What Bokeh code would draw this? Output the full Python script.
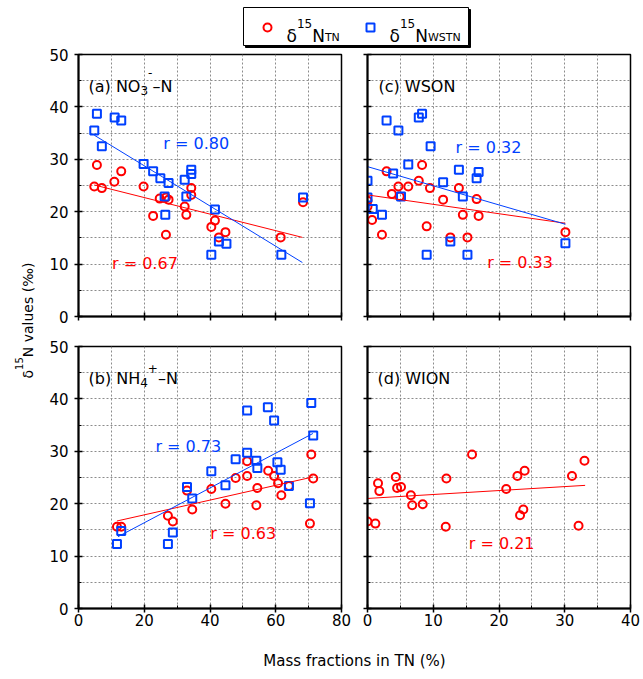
import math
from bokeh.plotting import figure
from bokeh.models import Range1d, FixedTicker, Label, CustomJSTickFormatter
from bokeh.layouts import column, row
from bokeh.embed import file_html
from bokeh.resources import INLINE

RED = "#ff0000"
BLUE = "#0040ff"
FONT = "DejaVu Sans"

# ---------------- data ----------------
# (a) NO3- -N  (x: mass fraction in TN, %)
a_tn_x = [5.6, 4.8, 7.1, 10.9, 13.0, 19.8, 22.7, 24.7, 26.6, 27.4, 26.6, 32.3, 32.8, 34.3, 34.3, 40.4, 41.5, 42.7, 44.7, 61.5, 68.3]
a_tn_y = [28.9, 24.8, 24.5, 25.7, 27.7, 24.8, 19.2, 22.5, 22.7, 22.3, 15.6, 21.0, 19.4, 24.5, 23.2, 17.1, 18.3, 15.1, 16.1, 15.1, 21.8]
a_ws_x = [5.6, 11.0, 13.0, 4.8, 7.1, 19.8, 22.7, 24.9, 27.4, 34.3, 34.3, 32.3, 26.2, 32.8, 26.4, 41.5, 40.4, 42.7, 45.0, 61.7, 68.3]
a_ws_y = [38.7, 38.0, 37.4, 35.5, 32.5, 29.1, 27.7, 26.4, 25.5, 28.0, 27.2, 26.1, 22.9, 22.9, 19.4, 20.4, 11.8, 14.3, 13.9, 11.8, 22.7]
a_fit_x = [4.8, 68.1]
a_fit_tn_y = [25.1, 15.1]
a_fit_ws_y = [34.6, 10.3]
a_r_tn, a_r_ws = "r = 0.67", "r = 0.80"

# (b) NH4+ -N
b_tn_x = [11.7, 13.0, 27.2, 28.7, 33.0, 34.6, 40.4, 44.7, 47.8, 51.3, 51.3, 54.4, 54.1, 57.7, 59.5, 60.7, 61.7, 64.0, 70.8, 71.4, 70.4]
b_tn_y = [15.6, 15.6, 17.7, 16.6, 22.5, 18.9, 22.8, 20.0, 24.9, 25.3, 28.1, 23.0, 19.7, 26.3, 25.3, 23.9, 21.6, 23.4, 29.4, 24.8, 16.2]
b_ws_x = [11.7, 13.0, 27.2, 28.7, 33.0, 34.6, 40.4, 44.7, 47.8, 51.3, 51.3, 54.1, 54.4, 57.6, 59.5, 60.5, 61.5, 64.0, 70.8, 71.4, 70.4]
b_ws_y = [12.3, 14.8, 12.3, 14.5, 23.2, 21.0, 26.2, 23.5, 28.5, 29.7, 37.8, 28.2, 26.8, 38.4, 35.9, 27.9, 26.5, 23.4, 39.2, 33.0, 20.1]
b_fit_tn_x = [11.7, 71.3]
b_fit_tn_y = [16.7, 25.1]
b_fit_ws_x = [12.0, 71.3]
b_fit_ws_y = [13.7, 33.4]
b_r_tn, b_r_ws = "r = 0.63", "r = 0.73"

# (c) WSON
c_tn_x = [2.9, 8.3, 7.8, 4.7, 6.2, 3.7, 4.9, 9.5, 0.0, 0.0, 0.7, 2.2, 11.5, 13.9, 16.6, 14.5, 16.9, 9.0, 12.6, 15.2, 30.1]
c_tn_y = [27.7, 28.9, 25.9, 24.8, 24.8, 23.4, 22.9, 24.5, 22.1, 21.0, 18.4, 15.6, 22.3, 24.5, 22.4, 19.4, 19.2, 17.2, 15.1, 15.1, 16.1]
c_ws_x = [2.9, 4.7, 7.8, 8.3, 9.6, 6.2, 3.9, 0.0, 0.0, 0.8, 2.2, 5.1, 11.5, 13.9, 14.5, 16.9, 16.6, 12.6, 9.0, 15.2, 30.1]
c_ws_y = [37.4, 35.5, 38.0, 38.7, 32.5, 29.0, 27.3, 25.9, 22.7, 20.5, 19.4, 22.9, 25.6, 28.0, 22.9, 27.6, 26.4, 14.3, 11.8, 11.8, 14.0]
c_fit_x = [0.0, 30.1]
c_fit_tn_y = [23.2, 17.8]
c_fit_ws_y = [28.6, 17.6]
c_r_tn, c_r_ws = "r = 0.33", "r = 0.32"

# (d) WION
d_tn_x = [0.0, 1.2, 1.6, 1.8, 4.3, 4.5, 5.1, 6.6, 6.8, 8.4, 12.0, 11.9, 15.9, 21.1, 22.8, 23.9, 23.2, 23.7, 31.1, 32.1, 33.0]
d_tn_y = [16.6, 16.2, 23.9, 22.4, 25.1, 23.0, 23.2, 21.6, 19.7, 19.9, 24.8, 15.6, 29.4, 22.8, 25.3, 26.3, 17.8, 18.9, 25.3, 15.8, 28.2]
d_fit_x = [0.0, 33.1]
d_fit_tn_y = [21.0, 23.5]
d_r_tn = "r = 0.21"

left_xticks = [0, 20, 40, 60, 80]
left_xminor = [10, 30, 50, 70]
right_xticks = [0, 10, 20, 30, 40]
right_xminor = [5, 15, 25, 35]
yticks = [0, 10, 20, 30, 40, 50]
yminor = [5, 15, 25, 35, 45]

# ---------------- helpers ----------------
WID = {' ': .318, '(': .390, ')': .390, 'a': .613, 'b': .635, 'c': .550, 'd': .635,
       'N': .748, 'O': .787, 'H': .752, 'W': .989, 'S': .635, 'I': .295, 'T': .611,
       '–': .5, '-': .361, '+': .838, '=': .838, '.': .318, 'r': .411, 'δ': .612,
       'v': .592, 'l': .278, 'u': .634, 'e': .615, 's': .521, '‰': 1.34, '%': .951,
       'M': .863, 'f': .352, 't': .392, 'i': .278, 'o': .612, 'n': .634}
for _d in "0123456789":
    WID[_d] = .636


def tw(s, size):
    return sum(WID.get(ch, .6) for ch in s) * size


def rich(p, x, y, pieces, dx=0.0, dy=0.0, color="black", angle=0.0):
    adv = 0.0
    for text, size, rise in pieces:
        if angle == 0.0:
            lab = Label(x=x, y=y, x_offset=dx + adv, y_offset=dy + rise, text=text,
                        text_baseline="alphabetic")
        else:
            # rotated text: anchor on the middle of the glyph box
            lab = Label(x=x - rise - 0.32 * size, y=y + adv, angle=angle, text=text,
                        text_baseline="middle")
        lab.text_font = FONT
        lab.text_font_size = f"{size}px"
        lab.text_color = color
        lab.text_align = "left"
        p.add_layout(lab)
        adv += tw(text, size)


def blank_fig(w, h):
    f = figure(width=w, height=h, x_range=Range1d(0, w), y_range=Range1d(0, h),
               output_backend="svg", toolbar_location=None,
               x_axis_location=None, y_axis_location=None,
               min_border=0, min_border_left=0, min_border_right=0,
               min_border_top=0, min_border_bottom=0)
    f.outline_line_color = None
    f.xgrid.visible = False
    f.ygrid.visible = False
    return f


def panel(xmax, xmaj, xmin, show_x, show_y, w, h, mbl, mbr, mbt, mbb):
    p = figure(width=w, height=h, x_range=Range1d(0, xmax), y_range=Range1d(0, 50),
               output_backend="svg", toolbar_location=None,
               min_border_left=mbl, min_border_right=mbr,
               min_border_top=mbt, min_border_bottom=mbb)
    p.outline_line_color = "black"
    p.outline_line_width = 1.5
    p.xaxis.ticker = FixedTicker(ticks=xmaj, minor_ticks=xmin)
    p.yaxis.ticker = FixedTicker(ticks=yticks, minor_ticks=yminor)
    for g in (p.xgrid, p.ygrid):
        g.grid_line_color = "#8c8c8c"
        g.grid_line_dash = "2 2"
        g.grid_line_width = 1
        g.minor_grid_line_color = "#8c8c8c"
        g.minor_grid_line_dash = "2 2"
        g.minor_grid_line_width = 1
    for ax in (p.xaxis, p.yaxis):
        ax.axis_line_width = 2
        ax.axis_line_color = "black"
        ax.major_tick_in = 4
        ax.major_tick_out = 4
        ax.minor_tick_in = 3
        ax.minor_tick_out = 0
        ax.major_tick_line_width = 1.5
        ax.minor_tick_line_width = 1
        ax.major_label_text_font = FONT
        ax.major_label_text_font_size = "15px"
        ax.major_label_text_color = "black"
    p.xaxis.major_label_standoff = 1
    p.yaxis.major_label_standoff = 6
    if not show_x:
        p.xaxis.formatter = CustomJSTickFormatter(code="return ''")
        p.xaxis.major_label_text_font_size = "0px"
        p.xaxis.major_label_standoff = 0
    if not show_y:
        p.yaxis.formatter = CustomJSTickFormatter(code="return ''")
        p.yaxis.major_label_text_font_size = "0px"
        p.yaxis.major_label_standoff = 0
    return p


def pts(p, x, y, marker, color):
    p.scatter(x, y, marker=marker, size=8, line_color=color, line_width=2, fill_color=None)


def fit(p, x, y, color):
    p.line(x, y, line_color=color, line_width=1)


def rlab(p, x, y, text, color):
    p.add_layout(Label(x=x, y=y, text=text, text_color=color, text_font=FONT,
                       text_font_size="16px", text_baseline="middle", text_align="left"))


# ---------------- panels ----------------
pa = panel(80, left_xticks, left_xminor, False, True, 316, 282, 40, 13, 6, 14)
pc = panel(40, right_xticks, right_xminor, False, False, 286, 282, 13, 10, 6, 14)
pb = panel(80, left_xticks, left_xminor, True, True, 316, 308, 40, 13, 16, 30)
pd = panel(40, right_xticks, right_xminor, True, False, 286, 308, 13, 10, 16, 30)

pts(pa, a_tn_x, a_tn_y, "circle", RED)
pts(pa, a_ws_x, a_ws_y, "square", BLUE)
fit(pa, a_fit_x, a_fit_tn_y, RED)
fit(pa, a_fit_x, a_fit_ws_y, BLUE)
rlab(pa, 25.8, 33.0, a_r_ws, BLUE)
rlab(pa, 10.2, 10.1, a_r_tn, RED)
rich(pa, 0, 50, [("(a) NO", 16, 0), ("3", 12, -4), ("-", 12, 14), ("–N", 16, 0)], dx=10, dy=-32)

pts(pb, b_tn_x, b_tn_y, "circle", RED)
pts(pb, b_ws_x, b_ws_y, "square", BLUE)
fit(pb, b_fit_tn_x, b_fit_tn_y, RED)
fit(pb, b_fit_ws_x, b_fit_ws_y, BLUE)
rlab(pb, 23.4, 31.0, b_r_ws, BLUE)
rlab(pb, 40.1, 14.4, b_r_tn, RED)
rich(pb, 0, 50, [("(b) NH", 16, 0), ("4", 12, -4), ("+", 12, 10), ("–N", 16, 0)], dx=10, dy=-32)

pts(pc, c_tn_x, c_tn_y, "circle", RED)
pts(pc, c_ws_x, c_ws_y, "square", BLUE)
fit(pc, c_fit_x, c_fit_tn_y, RED)
fit(pc, c_fit_x, c_fit_ws_y, BLUE)
rlab(pc, 13.4, 32.3, c_r_ws, BLUE)
rlab(pc, 18.2, 10.3, c_r_tn, RED)
rich(pc, 0, 50, [("(c) WSON", 16, 0)], dx=11, dy=-32)

pts(pd, d_tn_x, d_tn_y, "circle", RED)
fit(pd, d_fit_x, d_fit_tn_y, RED)
rlab(pd, 15.4, 12.5, d_r_tn, RED)
rich(pd, 0, 50, [("(d) WION", 16, 0)], dx=10, dy=-32)

# ---------------- legend ----------------
leg = blank_fig(640, 48)
leg.quad(left=[245], right=[470], bottom=[1], top=[39], fill_color="black", line_color="black")
leg.quad(left=[243], right=[468], bottom=[3], top=[41], fill_color="white", line_color="black", line_width=1)
leg.scatter([267], [21], marker="circle", size=8, line_color=RED, line_width=2, fill_color=None)
leg.scatter([370], [21], marker="square", size=8, line_color=BLUE, line_width=2, fill_color=None)
rich(leg, 286, 13, [("δ", 17, 0), ("15", 12, 12), ("N", 17, 0), ("TN", 11, -2)])
rich(leg, 389, 13, [("δ", 17, 0), ("15", 12, 12), ("N", 17, 0), ("WSTN", 11, -2)])

# ---------------- axis titles ----------------
ylab = blank_fig(38, 590)
rich(ylab, 32, 260, [("δ", 14, 0), ("15", 10, 10), ("N values (‰)", 14, 0)], angle=math.pi / 2)

xlab = blank_fig(640, 36)
xlab.add_layout(Label(x=354, y=14, text="Mass fractions in TN (%)", text_font=FONT,
                      text_font_size="15px", text_align="center", text_baseline="middle",
                      text_color="black"))

layout = column(leg, row(ylab, column(row(pa, pc), row(pb, pd))), xlab)

with open("out.html", "w") as fh:
    fh.write(file_html(layout, INLINE))
